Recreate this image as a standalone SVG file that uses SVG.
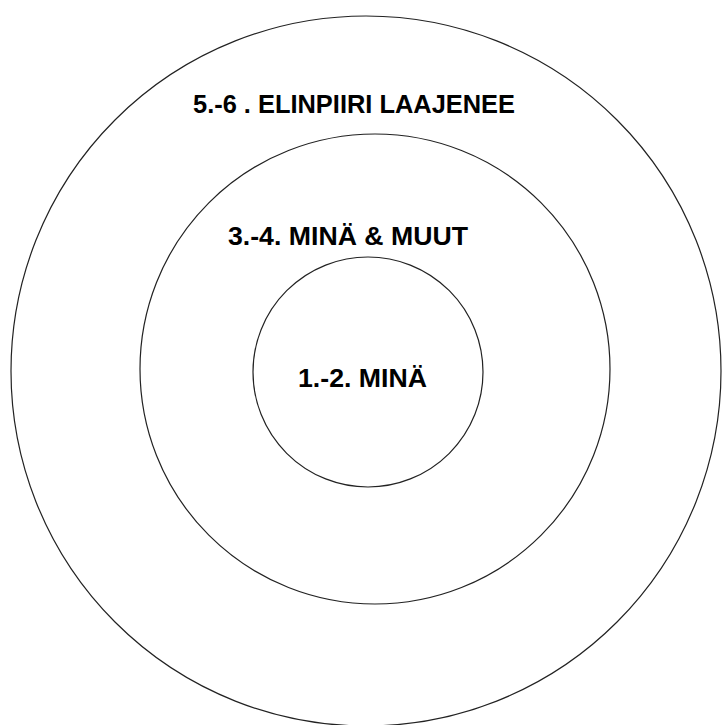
<svg xmlns="http://www.w3.org/2000/svg" width="722" height="725" viewBox="0 0 722 725">
<style>
.ring{fill:none;stroke:#222;stroke-width:1.2}
.lbl{font-family:"Liberation Sans",Arial,sans-serif;font-weight:bold;font-size:26.5px;fill:#000}
</style>
<rect width="722" height="725" fill="#fff"/>
<g id="outer"><circle class="ring" cx="366" cy="371" r="355"/><text class="lbl" x="193" y="113" textLength="322" lengthAdjust="spacingAndGlyphs">5.-6 . ELINPIIRI LAAJENEE</text></g>
<g id="middle"><circle class="ring" cx="375" cy="369" r="235"/><text class="lbl" x="228" y="245" textLength="240" lengthAdjust="spacingAndGlyphs">3.-4. MINÄ &amp; MUUT</text></g>
<g id="inner"><circle class="ring" cx="368" cy="372" r="115"/><text class="lbl" x="298" y="387" textLength="129" lengthAdjust="spacingAndGlyphs">1.-2. MINÄ</text></g>
<g id="connectors"/>
</svg>
